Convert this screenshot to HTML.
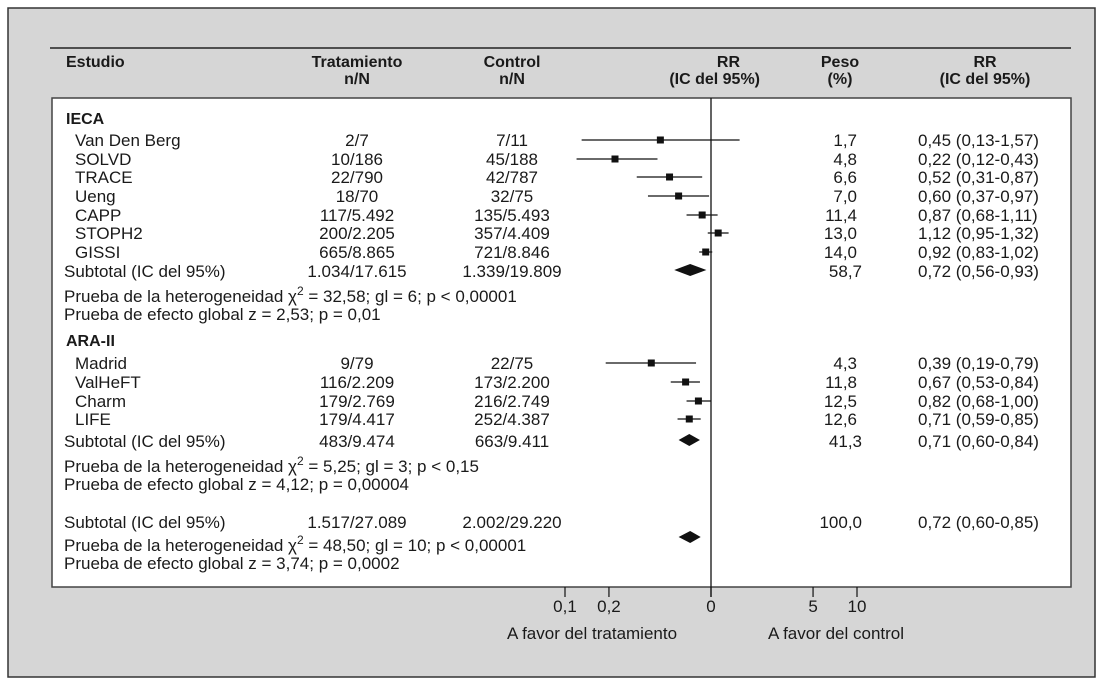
<!DOCTYPE html>
<html><head><meta charset="utf-8"><style>
body{margin:0;background:#fff}
svg text{font-family:"Liberation Sans",sans-serif;font-size:17px;fill:#1a1a1a}
.h{font-family:"Liberation Sans Narrow","Liberation Sans",sans-serif;font-weight:bold;font-size:16px}
</style></head><body>
<svg id="c" width="1103" height="681" viewBox="0 0 1103 681" xmlns="http://www.w3.org/2000/svg">
<rect x="8" y="8" width="1087" height="669" fill="#d6d6d6" stroke="#333" stroke-width="1.5"/>
<line x1="50" y1="48" x2="1071" y2="48" stroke="#222" stroke-width="1.5"/>
<rect x="52" y="98" width="1019" height="489" fill="#fff" stroke="#444" stroke-width="1.5"/>
<g>
<text class="h" x="66" y="67">Estudio</text>
<text class="h" x="357" y="67" text-anchor="middle">Tratamiento</text>
<text class="h" x="357" y="84" text-anchor="middle">n/N</text>
<text class="h" x="512" y="67" text-anchor="middle">Control</text>
<text class="h" x="512" y="84" text-anchor="middle">n/N</text>
<text class="h" x="740" y="67" text-anchor="end">RR</text>
<text class="h" x="760" y="84" text-anchor="end">(IC del 95%)</text>
<text class="h" x="840" y="67" text-anchor="middle">Peso</text>
<text class="h" x="840" y="84" text-anchor="middle">(%)</text>
<text class="h" x="985" y="67" text-anchor="middle">RR</text>
<text class="h" x="985" y="84" text-anchor="middle">(IC del 95%)</text>
</g>
<g id="rows"></g>
<g id="marks"></g>
<line x1="711" y1="98" x2="711" y2="597" stroke="#111" stroke-width="1.3"/>
<g id="axis"></g>
<text x="592" y="639" text-anchor="middle">A favor del tratamiento</text>
<text x="836" y="639" text-anchor="middle">A favor del control</text>
</svg>
<script>
const studies=["Van Den Berg","SOLVD","TRACE","Ueng","CAPP","STOPH2","GISSI","Madrid","ValHeFT","Charm","LIFE"];
const trat=["2/7","10/186","22/790","18/70","117/5.492","200/2.205","665/8.865","9/79","116/2.209","179/2.769","179/4.417"];
const ctrl=["7/11","45/188","42/787","32/75","135/5.493","357/4.409","721/8.846","22/75","173/2.200","216/2.749","252/4.387"];
const rr=[0.45,0.22,0.52,0.60,0.87,1.12,0.92,0.39,0.67,0.82,0.71];
const lo=[0.13,0.12,0.31,0.37,0.68,0.95,0.83,0.19,0.53,0.68,0.59];
const hi=[1.57,0.43,0.87,0.97,1.11,1.32,1.02,0.79,0.84,1.00,0.85];
const peso=["1,7","4,8","6,6","7,0","11,4","13,0","14,0","4,3","11,8","12,5","12,6"];
const rowY=[139,158,176,195,214,232,251,362,381,400,418];
const subNames=["subtotal-ieca","subtotal-ara","subtotal-global"];
const subTrat=["1.034/17.615","483/9.474","1.517/27.089"];
const subCtrl=["1.339/19.809","663/9.411","2.002/29.220"];
const subRR=[0.72,0.71,0.72];
const subLo=[0.56,0.60,0.60];
const subHi=[0.93,0.84,0.85];
const subPeso=["58,7","41,3","100,0"];
const subY=[270,440,521];
const subDiamondY=[270,440,537];
const tickVals=[0.1,0.2,1,5,10];
const tickLabels=["0,1","0,2","0","5","10"];
const NS="http://www.w3.org/2000/svg";
const x=v=>711+146*Math.log10(v);
const fmt=v=>v.toFixed(2).replace('.',',');
function mk(parent,tag,attrs,txt){const e=document.createElementNS(NS,tag);for(const k in attrs)e.setAttribute(k,attrs[k]);if(txt!==undefined)e.textContent=txt;document.getElementById(parent).appendChild(e);return e;}
const R="rows";
let e;
e=mk(R,"text",{x:66,y:124,class:"h"},"IECA");
e=mk(R,"text",{x:66,y:346,class:"h"},"ARA-II");
studies.forEach((s,i)=>{const by=rowY[i]+7;
e=mk(R,"text",{x:75,y:by},s);
e=mk(R,"text",{x:357,y:by,"text-anchor":"middle"},trat[i]);
e=mk(R,"text",{x:512,y:by,"text-anchor":"middle"},ctrl[i]);
e=mk(R,"text",{x:857,y:by,"text-anchor":"end"},peso[i]);
e=mk(R,"text",{x:918,y:by},fmt(rr[i])+" ("+fmt(lo[i])+"-"+fmt(hi[i])+")");
e=mk("marks","line",{x1:x(lo[i]),x2:x(hi[i]),y1:rowY[i]+1,y2:rowY[i]+1,stroke:"#111","stroke-width":1.2});
e=mk("marks","rect",{x:x(rr[i])-3.5,y:rowY[i]-2.5,width:7,height:7,fill:"#111"});
});
subNames.forEach((n,i)=>{const by=subY[i]+7;
e=mk(R,"text",{x:64,y:by},"Subtotal (IC del 95%)");
e=mk(R,"text",{x:357,y:by,"text-anchor":"middle"},subTrat[i]);
e=mk(R,"text",{x:512,y:by,"text-anchor":"middle"},subCtrl[i]);
e=mk(R,"text",{x:862,y:by,"text-anchor":"end"},subPeso[i]);
e=mk(R,"text",{x:918,y:by},fmt(subRR[i])+" ("+fmt(subLo[i])+"-"+fmt(subHi[i])+")");
const cy=subDiamondY[i];
e=mk("marks","polygon",{points:`${x(subLo[i])},${cy} ${x(subRR[i])},${cy-6} ${x(subHi[i])},${cy} ${x(subRR[i])},${cy+6}`,fill:"#111"});
});
const tests=[[302,"Prueba de la heterogeneidad ","32,58; gl = 6; p < 0,00001"],[320,"Prueba de efecto global z = 2,53; p = 0,01",null],[472,"Prueba de la heterogeneidad ","5,25; gl = 3; p < 0,15"],[490,"Prueba de efecto global z = 4,12; p = 0,00004",null],[551,"Prueba de la heterogeneidad ","48,50; gl = 10; p < 0,00001"],[569,"Prueba de efecto global z = 3,74; p = 0,0002",null]];
tests.forEach(t=>{e=mk(R,"text",{x:64,y:t[0]});
e.appendChild(document.createTextNode(t[1]));
if(t[2]){const a=document.createElementNS(NS,"tspan");a.textContent="χ";e.appendChild(a);const b=document.createElementNS(NS,"tspan");b.setAttribute("dy","-7");b.setAttribute("font-size","12");b.textContent="2";e.appendChild(b);const c=document.createElementNS(NS,"tspan");c.setAttribute("dy","7");c.textContent=" = "+t[2];e.appendChild(c);}
});
tickVals.forEach((v,i)=>{
e=mk("axis","line",{x1:x(v),x2:x(v),y1:587,y2:597,stroke:"#111","stroke-width":1.2});
e=mk("axis","text",{x:x(v),y:612,"text-anchor":"middle"},tickLabels[i]);
});
</script>
</body></html>
